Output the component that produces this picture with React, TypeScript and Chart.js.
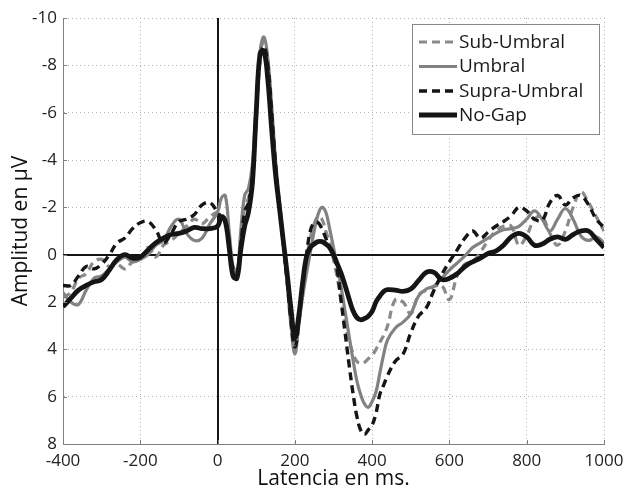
import React, { useEffect, useRef } from "react";
import { Chart, registerables } from "chart.js";

Chart.register(...registerables);

// Latency (ms): 20 ms steps outside the fast ERP region, 10 ms inside it
const latency = [
  -400, -380, -360, -340, -320, -300, -280, -260, -240, -220,
  -200, -180, -160, -140, -120, -100, -80, -60, -40, -20,
  0, 10, 20, 30, 40, 50, 60, 70, 80, 90,
  100, 110, 120, 130, 140, 150, 160, 170, 180, 190,
  200, 210, 220, 230, 240, 250, 260, 270, 280, 290,
  300, 310, 320, 330, 340, 350, 360, 370, 380, 390,
  400, 410, 420, 430, 440,
  460, 480, 500, 520, 540, 560, 580, 600, 620, 640,
  660, 680, 700, 720, 740, 760, 780, 800, 820, 840,
  860, 880, 900, 920, 940, 960, 980, 1000,
];

const subUmbral = [
  1.8, 1.6, 1.0, 0.8, 0.3, 0.2, 0.5, 0.4, 0.6, 0.3,
  0.2, -0.3, 0.1, -0.4, -0.6, -0.9, -1.2, -1.5, -1.3, -1.6,
  -1.8, -1.7, -1.5, -0.6, 0.5, 0.7, -0.6, -2.0, -2.4, -3.4,
  -6.0, -8.5, -9.0, -8.1, -6.1, -3.9, -2.1, -0.5, 1.1, 2.9,
  4.0, 3.0, 1.4, 0.2, -0.7, -1.3, -1.6, -1.5, -1.0, -0.5,
  0.2, 1.0, 2.0, 2.9, 3.6, 4.15, 4.5, 4.6, 4.55, 4.4,
  4.25, 4.0, 3.7, 3.4, 3.0,
  1.9, 2.0, 2.5, 1.7, 1.5, 1.35, 1.3, 1.9, 0.9, 0.4,
  0.3, -0.1, -0.6, -1.0, -1.2, -1.2, -0.4, -0.8, -1.5, -1.6,
  -0.9, -0.4, -1.0, -2.0, -2.65, -2.2, -1.6, -1.0,
];

const umbral = [
  1.6, 2.0, 2.1, 1.5, 1.0, 0.9, 0.6, 0.3, 0.1, 0.3,
  0.2, 0.0, -0.4, -0.6, -1.2, -1.5, -0.9, -0.6, -0.7, -1.3,
  -1.8, -2.4, -2.5, -1.0, 0.5, 0.8, -1.0, -2.5, -2.8, -3.8,
  -6.3, -8.6, -9.2, -8.3, -6.3, -4.0, -2.3, -0.6, 1.2, 3.0,
  4.2, 3.0, 1.8, 0.8, -0.1, -1.0, -1.7, -2.0, -1.8, -1.1,
  -0.3, 0.5, 1.4, 2.4, 3.4, 4.4, 5.3, 5.9, 6.3, 6.45,
  6.2, 5.8, 5.0, 4.2, 3.6,
  3.1, 2.85, 2.5, 1.75, 1.45, 1.33, 1.0, 0.65, 0.35, 0.05,
  -0.3, -0.5, -0.7, -0.9, -1.05, -1.1, -1.2, -1.5, -1.85, -1.5,
  -1.0, -1.5, -1.95, -1.5, -0.8, -0.6, -0.75, -0.5,
];

const supraUmbral = [
  1.3, 1.3, 0.9, 0.5, 0.6, 0.4, 0.0, -0.5, -0.7, -1.1,
  -1.35, -1.4, -1.05, -0.5, -0.9, -1.4, -1.5, -1.7, -2.1, -2.2,
  -1.8, -1.6, -1.5, -0.5, 0.6, 0.8, -0.4, -1.8, -2.2, -3.2,
  -5.8, -8.3, -8.8, -8.0, -6.0, -3.8, -2.0, -0.5, 1.1, 2.8,
  3.9, 2.9, 1.3, 0.0, -1.0, -1.35, -1.35, -1.1, -0.7, -0.3,
  0.0, 0.7, 2.0, 3.3, 4.6, 5.8, 6.8, 7.4, 7.6, 7.4,
  7.2, 6.7, 5.9, 5.5, 5.1,
  4.5, 4.2, 3.3, 2.6, 2.25, 1.5, 0.85, 0.3, -0.2, -0.7,
  -1.0, -0.7, -0.95, -1.2, -1.4, -1.65, -2.0, -1.85, -1.5, -1.45,
  -2.2, -2.5, -2.1, -2.4, -2.5, -2.1, -1.5, -1.15,
];

const noGap = [
  2.2, 1.85, 1.5, 1.3, 1.15, 1.05, 0.65, 0.2, 0.0, 0.15,
  0.1, -0.2, -0.5, -0.7, -0.85, -0.9, -1.0, -1.15, -1.1, -1.1,
  -1.2, -1.6, -1.4, -0.3, 0.9, 1.0, -0.2, -1.2, -1.8, -3.0,
  -6.0, -8.5, -8.6, -7.4, -5.3, -3.4, -2.0, -0.6, 0.8, 2.3,
  3.5, 2.6, 1.2, 0.1, -0.3, -0.45, -0.55, -0.55, -0.45, -0.3,
  0.0, 0.4, 0.8, 1.3, 1.85, 2.35, 2.65, 2.75, 2.7, 2.6,
  2.4, 2.0, 1.75, 1.55, 1.48,
  1.5, 1.55, 1.45, 1.1, 0.75, 0.75, 1.05, 1.0, 0.8, 0.5,
  0.3, 0.15, -0.05, -0.15, -0.4, -0.75, -0.9, -0.75, -0.4, -0.45,
  -0.65, -0.75, -0.65, -0.85, -1.0, -1.0, -0.65, -0.3,
];

const seriesLabels = ["Sub-Umbral", "Umbral", "Supra-Umbral", "No-Gap"];
const xTitle = "Latencia en ms.";
const yTitle = "Amplitud en µV";

const FONT = "'Open Sans', 'DejaVu Sans', sans-serif";

const zeroLinesPlugin = {
  id: "zeroLines",
  beforeDatasetsDraw(chart: any) {
    const { ctx, chartArea, scales } = chart;
    const x0 = Math.round(scales.x.getPixelForValue(0));
    const y0 = Math.round(scales.y.getPixelForValue(0));
    ctx.save();
    ctx.strokeStyle = "#151515";
    ctx.lineWidth = 2;
    ctx.beginPath();
    ctx.moveTo(x0, chartArea.top);
    ctx.lineTo(x0, chartArea.bottom);
    ctx.moveTo(chartArea.left, y0);
    ctx.lineTo(chartArea.right, y0);
    ctx.stroke();
    ctx.restore();
  },
};

const inwardTicksPlugin = {
  id: "inwardTicks",
  afterDraw(chart: any) {
    const { ctx, chartArea, scales } = chart;
    ctx.save();
    ctx.strokeStyle = "#808080";
    ctx.lineWidth = 1;
    ctx.beginPath();
    scales.x.ticks.forEach((t: any) => {
      const px = Math.round(scales.x.getPixelForValue(t.value)) + 0.5;
      ctx.moveTo(px, chartArea.bottom);
      ctx.lineTo(px, chartArea.bottom - 4);
    });
    scales.y.ticks.forEach((t: any) => {
      const py = Math.round(scales.y.getPixelForValue(t.value)) + 0.5;
      ctx.moveTo(chartArea.left, py);
      ctx.lineTo(chartArea.left + 4, py);
    });
    ctx.stroke();
    ctx.restore();
  },
};

const boxLegendPlugin = {
  id: "boxLegend",
  afterDraw(chart: any) {
    const { ctx } = chart;
    const bx = 412.5, by = 24.5, bw = 187, bh = 110;
    ctx.save();
    ctx.fillStyle = "#ffffff";
    ctx.fillRect(bx, by, bw, bh);
    ctx.strokeStyle = "#888888";
    ctx.lineWidth = 1;
    ctx.strokeRect(bx, by, bw, bh);
    const rows = [42, 66.5, 91, 115];
    chart.data.datasets.forEach((ds: any, i: number) => {
      const y = rows[i];
      ctx.strokeStyle = ds.borderColor;
      ctx.lineWidth = ds.borderWidth;
      ctx.setLineDash(ds.borderDash || []);
      ctx.beginPath();
      ctx.moveTo(419, y);
      ctx.lineTo(457, y);
      ctx.stroke();
      ctx.setLineDash([]);
      ctx.fillStyle = "#1a1a1a";
      ctx.font = `19px ${FONT}`;
      ctx.textBaseline = "middle";
      ctx.textAlign = "left";
      ctx.fillText(ds.label, 459, y + 0.5);
    });
    ctx.restore();
  },
};

export default function App() {
  const ref = useRef<HTMLCanvasElement>(null);

  useEffect(() => {
    if (!ref.current) return;
    const mk = (vals: number[]) => latency.map((x, i) => ({ x, y: vals[i] }));
    const chart = new Chart(ref.current, {
      type: "line",
      data: {
        datasets: [
          {
            label: seriesLabels[0],
            data: mk(subUmbral),
            borderColor: "#8a8a8a",
            borderWidth: 3.2,
            borderDash: [8, 5],
            order: 3,
          },
          {
            label: seriesLabels[1],
            data: mk(umbral),
            borderColor: "#828282",
            borderWidth: 3.2,
            order: 2,
          },
          {
            label: seriesLabels[2],
            data: mk(supraUmbral),
            borderColor: "#151515",
            borderWidth: 3.4,
            borderDash: [8, 5],
            order: 1,
          },
          {
            label: seriesLabels[3],
            data: mk(noGap),
            borderColor: "#151515",
            borderWidth: 4.8,
            order: 0,
          },
        ],
      } as any,
      options: {
        responsive: false,
        animation: false,
        devicePixelRatio: 1,
        elements: {
          point: { radius: 0 },
          line: { tension: 0.4, borderCapStyle: "butt", borderJoinStyle: "round" },
        },
        layout: { padding: { top: 18, right: 20, left: 0, bottom: 0 } },
        plugins: {
          legend: { display: false },
          tooltip: { enabled: false },
        },
        scales: {
          x: {
            type: "linear",
            min: -400,
            max: 1000,
            afterFit: (s: any) => {
              s.height = 43;
              s.paddingLeft = 0;
              s.paddingRight = 0;
            },
            ticks: {
              stepSize: 200,
              autoSkip: false,
              maxRotation: 0,
              padding: 7,
              color: "#222",
              font: { family: FONT, size: 17 },
              callback: (v: any) => String(v),
            },
            grid: { color: "#b4b4b4", lineWidth: 1, drawTicks: false },
            border: { display: true, color: "#808080", width: 1, dash: [1, 3] },
            title: {
              display: true,
              text: xTitle,
              color: "#111",
              font: { family: FONT, size: 21 },
              padding: { top: 0, bottom: -5 },
            },
          },
          y: {
            type: "linear",
            reverse: true,
            min: -10,
            max: 8,
            afterFit: (s: any) => {
              s.width = 63;
              s.paddingTop = 0;
              s.paddingBottom = 0;
            },
            ticks: {
              stepSize: 2,
              padding: 6,
              color: "#222",
              font: { family: FONT, size: 17 },
              callback: (v: any) => String(v),
            },
            grid: { color: "#b4b4b4", lineWidth: 1, drawTicks: false },
            border: { display: true, color: "#808080", width: 1, dash: [1, 3] },
            title: {
              display: true,
              text: yTitle,
              color: "#111",
              font: { family: FONT, size: 21 },
              padding: { top: 8, bottom: 0 },
            },
          },
        },
      } as any,
      plugins: [zeroLinesPlugin, inwardTicksPlugin, boxLegendPlugin],
    });
    return () => chart.destroy();
  }, []);

  return (
    <div style={{ position: "fixed", left: 0, top: 0, width: 624, height: 487, background: "#fff" }}>
      <canvas ref={ref} width={624} height={487} style={{ display: "block" }} />
    </div>
  );
}
